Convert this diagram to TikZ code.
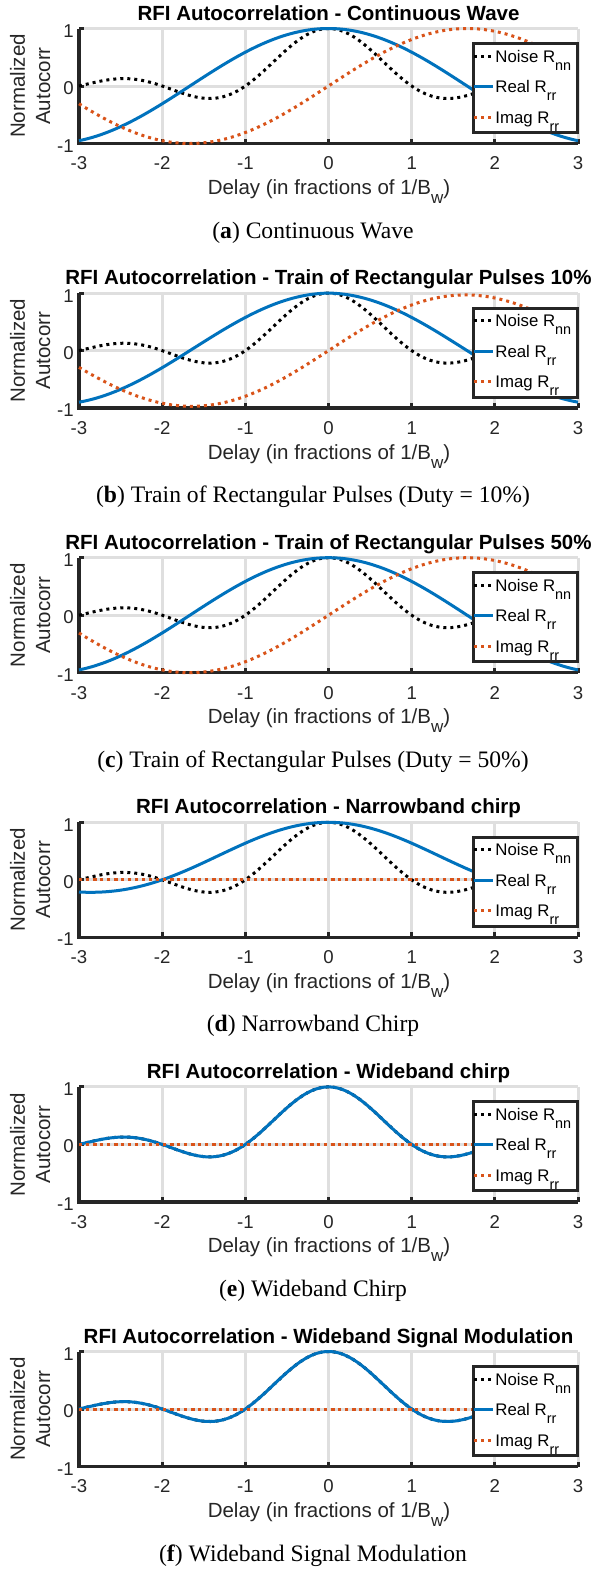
\documentclass[tikz,border=0pt]{standalone}
\usepackage{fontspec}
\setmainfont{Liberation Sans}
\newfontfamily\capfont{Liberation Serif}
\definecolor{mblue}{HTML}{0072BD}
\definecolor{morange}{HTML}{D95319}
\definecolor{axgray}{HTML}{262626}
\definecolor{gridgray}{HTML}{DFDFDF}
\newcommand\sbs[1]{\raisebox{-4pt}{\fontsize{7.2}{7.2}\selectfont #1}}
\newcommand\xsbs[1]{\raisebox{-4.5pt}{\fontsize{8.5}{8.5}\selectfont #1}}
\tikzset{
  gridline/.style={draw=gridgray, line width=1.5pt},
  axisline/.style={draw=axgray, line width=1.75pt},
  tickmark/.style={draw=axgray, line width=1.5pt},
  ticklab/.style={text=axgray, font=\fontsize{9.3}{11}\selectfont, inner sep=0pt},
  axlab/.style={text=axgray, font=\fontsize{10.25}{12}\selectfont, inner sep=0pt},
  titlelab/.style={text=black, font=\bfseries\fontsize{10.25}{12}\selectfont, inner sep=0pt},
  caplab/.style={text=black, font=\capfont\fontsize{11.8}{14}\selectfont, inner sep=0pt},
  leglab/.style={text=black, font=\fontsize{8.4}{10}\selectfont, inner sep=0pt, anchor=base west},
  noisecurve/.style={draw=black, line width=1.5pt, dash pattern=on 1.5pt off 2pt},
  realcurve/.style={draw=mblue, line width=1.5pt},
  imagcurve/.style={draw=morange, line width=1.5pt, dash pattern=on 1.5pt off 2pt},
  legbox/.style={draw=axgray, fill=white, line width=1.5pt, inner sep=0pt,
    minimum width=52pt, minimum height=44.5pt, anchor=north west},
}
% #1 vertical offset (px), #2 title, #3 letter, #4 caption, #5 real expr, #6 imag expr
\newcommand\rfipanel[6]{%
\begin{scope}[shift={(0,#1)}]
  \foreach \gx in {-2,-1,0,1,2,3}
    \draw[gridline] ({328.5+83.17*\gx},28.5) -- ({328.5+83.17*\gx},143.5);
  \draw[gridline] (79,28.5) -- (578,28.5);
  \draw[gridline] (79,86) -- (578,86);
  \draw[axisline] (79,28.5) -- (79,143.5) -- (578,143.5);
  \foreach \gx in {-3,-2,-1,0,1,2,3}{
    \draw[tickmark] ({328.5+83.17*\gx},143.5) -- ({328.5+83.17*\gx},138.5);
    \node[ticklab, anchor=base] (xt#3\gx) at ({328.5+83.17*\gx},169.8) {\gx};
  }
  \draw[tickmark] (79,28.5) -- (84,28.5);
  \draw[tickmark] (79,86) -- (84,86);
  \node[ticklab, anchor=base east] (yt#3a) at (74,37.5) {1};
  \node[ticklab, anchor=base east] (yt#3b) at (74,94.5) {0};
  \node[ticklab, anchor=base east] (yt#3c) at (74,152) {-1};
  \draw[noisecurve] plot[domain=-3:3, samples=240, smooth] ({328.5+83.17*\x},{86-57.5*sin(180*\x)/(pi*\x)});
  \draw[realcurve] plot[domain=-3:3, samples=240, smooth] ({328.5+83.17*\x},{86-57.5*(#5)});
  \draw[imagcurve] plot[domain=-3:3, samples=240, smooth] ({328.5+83.17*\x},{86-57.5*(#6)});
  \node[titlelab, anchor=base] (title#3) at (328.5,20) {#2};
  \node[axlab, anchor=base] (xlab#3) at (329,194.5) {Delay (in fractions of 1/B\xsbs{w})};
  \node[axlab, anchor=base, rotate=90] (ylab#3a) at (25,86) {Normalized};
  \node[axlab, anchor=base, rotate=90] (ylab#3b) at (50,86) {Autocorr};
  \node[legbox] (leg#3) at (472,42) {};
  \draw[noisecurve] (474,56) -- (493,56);
  \draw[realcurve] (474,86.5) -- (493,86.5);
  \draw[imagcurve] (474,117) -- (493,117);
  \node[leglab] (ln#3) at (495,62) {Noise R\sbs{nn}};
  \node[leglab] (lr#3) at (495,92.5) {Real R\sbs{rr}};
  \node[leglab] (li#3) at (495,123) {Imag R\sbs{rr}};
  \node[caplab, anchor=base] (cap#3) at (313,238) {(\textbf{#3}) #4};
\end{scope}}
\begin{document}
\begin{tikzpicture}[x=0.5pt, y=-0.5pt]
\useasboundingbox[fill=white] (0,0) rectangle (594,1569);
\rfipanel{0}{RFI Autocorrelation - Continuous Wave}{a}{Continuous Wave}{cos(54*\x)}{sin(54*\x)}
\rfipanel{264.6}{RFI Autocorrelation - Train of Rectangular Pulses 10\%}{b}{Train of Rectangular Pulses (Duty = 10\%)}{(1-0.019*abs(\x))*cos(54*\x)}{(1-0.019*abs(\x))*sin(54*\x)}
\rfipanel{529.2}{RFI Autocorrelation - Train of Rectangular Pulses 50\%}{c}{Train of Rectangular Pulses (Duty = 50\%)}{cos(54*\x)}{sin(54*\x)}
\rfipanel{793.8}{RFI Autocorrelation - Narrowband chirp}{d}{Narrowband Chirp}{sin(90*\x)/(pi*\x/2)}{0}
\rfipanel{1058.4}{RFI Autocorrelation - Wideband chirp}{e}{Wideband Chirp}{sin(180*\x)/(pi*\x)}{0}
\rfipanel{1323}{RFI Autocorrelation - Wideband Signal Modulation}{f}{Wideband Signal Modulation}{sin(180*\x)/(pi*\x)}{0}
\end{tikzpicture}
\end{document}
